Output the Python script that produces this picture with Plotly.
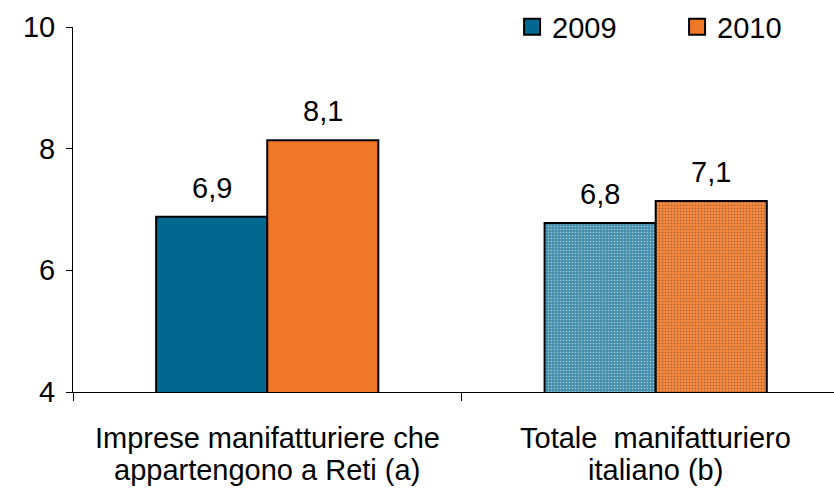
import plotly.graph_objects as go

categories = ["Imprese manifatturiere che\nappartengono a Reti (a)",
              "Totale  manifatturiero\nitaliano (b)"]
series_names = ["2009", "2010"]
values_2009 = [6.88, 6.78]
values_2010 = [8.14, 7.14]
y_ticks = [4, 6, 8, 10]

def lab(v):
    return format(v, ".1f").replace(".", ",")

FONT = "Liberation Sans, Arial, sans-serif"
FS = 29
BW = 0.286
xs = list(range(len(categories)))

colors_2009 = ["#02688F", "#4690AD"]
colors_2010 = ["#F07628", "#F2863C"]

fig = go.Figure()
fig.add_trace(go.Bar(
    name=series_names[0], x=xs, y=values_2009, width=BW, offset=-BW,
    marker=dict(color=colors_2009, line=dict(color="black", width=2),
                pattern=dict(shape=["", "."], fgcolor="#5FA0BA", size=3, solidity=0.2)),
    showlegend=False,
))
fig.add_trace(go.Bar(
    name=series_names[1], x=xs, y=values_2010, width=BW, offset=0,
    marker=dict(color=colors_2010, line=dict(color="black", width=2),
                pattern=dict(shape=["", "."], fgcolor="#F59C5C", size=3, solidity=0.2)),
    showlegend=False,
))
# legend entries
for name, col in zip(series_names, [colors_2009[0], colors_2010[0]]):
    fig.add_trace(go.Scatter(
        x=[None], y=[None], mode="markers", name=name,
        marker=dict(symbol="square", size=19, color=col, line=dict(color="black", width=2)),
    ))

annotations = []
for off, vals in [(-BW / 2, values_2009), (BW / 2, values_2010)]:
    for i, v in enumerate(vals):
        annotations.append(dict(x=i + off, y=v, xref="x", yref="y", text=lab(v),
                                showarrow=False, yanchor="middle", yshift=29,
                                font=dict(size=FS, family=FONT, color="black")))
for i, c in enumerate(categories):
    for k, line in enumerate(c.split("\n")):
        annotations.append(dict(x=i, y=-0.126 - k * 0.0877, xref="x", yref="paper",
                                text=line, showarrow=False, yanchor="middle",
                                font=dict(size=FS, family=FONT, color="black")))

fig.update_layout(
    width=834, height=489,
    margin=dict(l=73, r=0, t=27, b=97, autoexpand=False),
    paper_bgcolor="white", plot_bgcolor="white",
    font=dict(family=FONT, size=FS, color="black"),
    showlegend=True,
    legend=dict(orientation="h", xref="container", yref="container",
                x=0.614, y=1 - 27 / 489, xanchor="left", yanchor="middle",
                font=dict(size=FS), entrywidth=120, itemsizing="trace",
                bgcolor="rgba(0,0,0,0)", traceorder="normal"),
    annotations=annotations,
)
fig.update_xaxes(range=[-0.5, 1.459], showline=True, linecolor="black", linewidth=1,
                 tickmode="array", tickvals=[-0.5, 0.5, 1.5], showticklabels=False,
                 ticks="outside", ticklen=8, tickcolor="black",
                 showgrid=False, zeroline=False, automargin=False)
fig.update_yaxes(range=[4, 10], tickvals=y_ticks, showline=True, linecolor="black",
                 linewidth=1, ticks="outside", ticklen=6, tickcolor="black",
                 ticklabelstandoff=5, showgrid=False, zeroline=False,
                 tickfont=dict(size=FS), automargin=False)

fig.write_html("out.html", config={"displayModeBar": False},
               post_script="document.body.style.margin='0';document.body.style.overflow='hidden';")
